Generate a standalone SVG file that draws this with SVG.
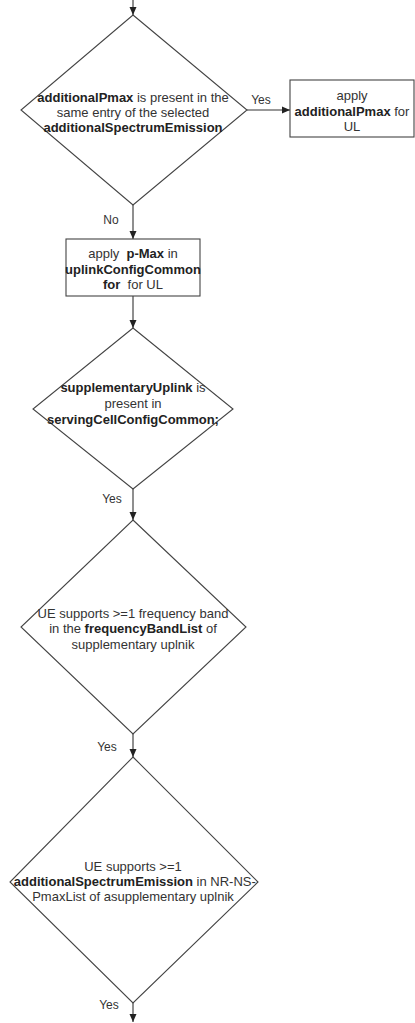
<svg xmlns="http://www.w3.org/2000/svg" width="415" height="1023" viewBox="0 0 415 1023">
<style>
.shape{fill:#fff;stroke:#444;stroke-width:1.1}
.t{font-family:"Liberation Sans",Arial,sans-serif;font-size:13px;fill:#333;text-anchor:middle;white-space:pre}
.b{font-weight:bold;fill:#222}
.lbl{font-family:"Liberation Sans",Arial,sans-serif;font-size:12px;fill:#333;text-anchor:middle}
.c{stroke:#333;stroke-width:1.1;fill:none;marker-end:url(#arr)}
</style>
<defs>
<marker id="arr" markerUnits="userSpaceOnUse" markerWidth="9" markerHeight="9" refX="8" refY="4" orient="auto">
<path d="M0,0.5 L8,4 L0,7.5 Z" fill="#222"/>
</marker>
</defs>
<rect width="415" height="1023" fill="#fff"/>
<g id="connectors">
<line class="c" x1="133" y1="0" x2="133" y2="15"/>
<line class="c" x1="247" y1="110" x2="290" y2="110"/>
<line class="c" x1="133" y1="205" x2="133" y2="239"/>
<line class="c" x1="133" y1="296" x2="133" y2="328"/>
<line class="c" x1="133" y1="489" x2="133" y2="520"/>
<line class="c" x1="133" y1="734" x2="133" y2="757"/>
<line class="c" x1="133" y1="1003" x2="133" y2="1022"/>
<text class="lbl" x="261" y="104">Yes</text>
<text class="lbl" x="111" y="224">No</text>
<text class="lbl" x="112" y="503">Yes</text>
<text class="lbl" x="107" y="751">Yes</text>
<text class="lbl" x="109" y="1009">Yes</text>
</g>
<g id="d1">
<polygon class="shape" points="133,15 247,110 133,205 21,110"/>
<text class="t" x="133" y="101.5"><tspan class="b">additionalPmax</tspan> is present in the</text>
<text class="t" x="133" y="116.5">same entry of the selected</text>
<text class="t b" x="133" y="131.5">additionalSpectrumEmission</text>
</g>
<g id="box1">
<rect class="shape" x="290" y="80" width="124" height="57"/>
<text class="t" x="352" y="100">apply</text>
<text class="t" x="352" y="115.5"><tspan class="b">additionalPmax</tspan> for</text>
<text class="t" x="352" y="131">UL</text>
</g>
<g id="box2">
<rect class="shape" x="66" y="239" width="134" height="57"/>
<text class="t" x="133" y="257.5">apply  <tspan class="b">p-Max</tspan> in</text>
<text class="t b" x="133" y="273.5">uplinkConfigCommon</text>
<text class="t" x="133" y="288.5"><tspan class="b">for</tspan>  for UL</text>
</g>
<g id="d2">
<polygon class="shape" points="133,328 233,409 133,489 33,409"/>
<text class="t" x="133" y="391.5"><tspan class="b">supplementaryUplink</tspan> is</text>
<text class="t" x="133" y="407.5">present in</text>
<text class="t b" x="133" y="423.5">servingCellConfigCommon;</text>
</g>
<g id="d3">
<polygon class="shape" points="133,520 246,627 133,734 21,627"/>
<text class="t" x="133" y="617.5">UE supports &gt;=1 frequency band</text>
<text class="t" x="133" y="632.5">in the <tspan class="b">frequencyBandList</tspan> of</text>
<text class="t" x="133" y="648.5">supplementary uplnik</text>
</g>
<g id="d4">
<polygon class="shape" points="133,757 258,882 133,1003 10,882"/>
<text class="t" x="133" y="870.5">UE supports &gt;=1</text>
<text class="t" x="133" y="886">
<tspan class="b">additionalSpectrumEmission</tspan> in NR-NS-</text>
<text class="t" x="133" y="901">PmaxList of asupplementary uplnik</text>
</g>
</svg>
